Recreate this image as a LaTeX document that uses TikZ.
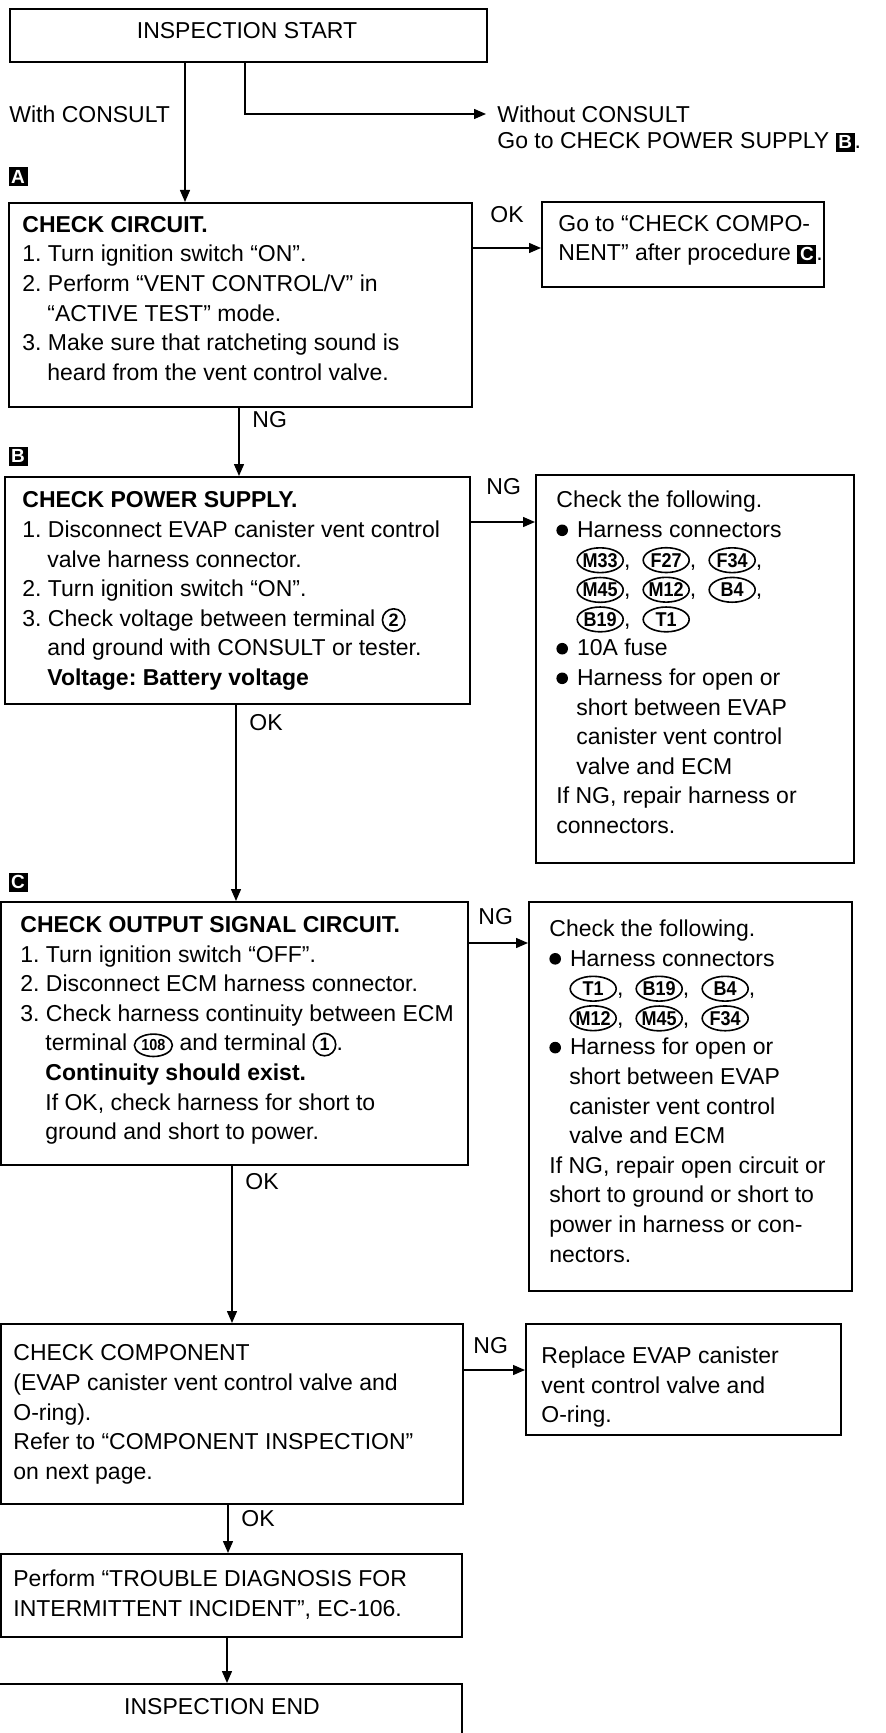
\documentclass[tikz,border=0pt]{standalone}
\usepackage{fontspec}
\setmainfont{Liberation Sans}
\newfontfamily\connfont[FakeStretch=0.9]{Liberation Sans}
\usetikzlibrary{arrows.meta}

\newcommand\fl{\rule{0pt}{9pt}}
\newcommand\ind{\hspace*{12.5pt}}
\newcommand\bind{\hspace*{10pt}}
\newcommand\sep{,\hspace{6pt}}
\newcommand\bul{\tikz[baseline=-3.6pt]\fill (0,0) circle (2.9pt);\hspace{4.5pt}}
\newcommand\conn[1]{\tikz[baseline=(inl.base)]{\node[anchor=center,inner sep=0pt,font=\connfont\fontsize{10}{10}\selectfont\bfseries] (inl) {#1};
  \draw[line width=0.8pt] (inl.center) ellipse (11.5pt and 6.2pt);}}
\newcommand\pin[1]{\tikz[baseline=(inl.base)]{\node[anchor=center,inner sep=0pt,font=\connfont\fontsize{8}{8}\selectfont\bfseries] (inl) {#1};
  \draw[line width=0.8pt] (inl.center) ellipse (9.5pt and 5.6pt);}}
\newcommand\term[1]{\tikz[baseline=(inl.base)]{\node[anchor=center,inner sep=0pt,font=\fontsize{9}{9}\selectfont\bfseries] (inl) {#1};
  \draw[line width=0.8pt] (inl.center) circle (5.6pt);}}
\newcommand\lettag[1]{\tikz[baseline=(inl.base)]\node[tagbox,anchor=center] (inl) {#1};}

\begin{document}
\begin{tikzpicture}[x=0.5pt,y=-0.5pt,font=\fontsize{11.5}{14.8}\selectfont\frenchspacing,
    box/.style 2 args={draw,line width=1pt,anchor=north west,inner sep=0pt,minimum width=#1pt/2,minimum height=#2pt/2},
    txt/.style={anchor=north west,inner sep=0pt,align=left},
    lab/.style={anchor=west,inner sep=0pt},
    tagbox/.style={fill=black,text=white,inner sep=0pt,minimum size=9.5pt,font=\fontsize{9.5}{9.5}\selectfont\bfseries},
    flow/.style={line width=0.7pt,-{Triangle[length=6pt,width=5pt]}}]
  \useasboundingbox (0,0) rectangle (885,1733);

  \node[box={477}{53}] (start) at (9,8) {};
  \node (tstart) at (247,31) {INSPECTION START};
  \node[lab] (with) at (9,114) {With CONSULT};
  \node[lab] (wo1) at (497,114) {Without CONSULT};
  \node[lab] (wo2) at (497,142) {Go to CHECK POWER SUPPLY \lettag{B}.};

  \node[tagbox] (tagA) at (18,177) {A};
  \node[box={463}{204}] (a) at (8,202) {};
  \node[txt] (ta) at (22,214) {\fl\textbf{CHECK CIRCUIT.}\\
    1. Turn ignition switch “ON”.\\
    2. Perform “VENT CONTROL/V” in\\
    \ind “ACTIVE TEST” mode.\\
    3. Make sure that ratcheting sound is\\
    \ind heard from the vent control valve.};
  \node[box={282}{85}] (a2) at (541,201) {};
  \node[txt] (ta2) at (558,213) {\fl Go to “CHECK COMPO-\\NENT” after procedure \lettag{C}.};

  \node[tagbox] (tagB) at (18,456) {B};
  \node[box={465}{227}] (b) at (4,476) {};
  \node[txt] (tb) at (22,489.5) {\fl\textbf{CHECK POWER SUPPLY.}\\
    1. Disconnect EVAP canister vent control\\
    \ind valve harness connector.\\
    2. Turn ignition switch “ON”.\\
    3. Check voltage between terminal \term{2}\\
    \ind and ground with CONSULT or tester.\\
    \ind\textbf{Voltage: Battery voltage}};
  \node[box={318}{388}] (b2) at (535,474) {};
  \node[txt] (tb2) at (556,489.5) {\fl Check the following.\\
    \bul Harness connectors\\
    \bind\conn{M33}\sep\conn{F27}\sep\conn{F34},\\
    \bind\conn{M45}\sep\conn{M12}\sep\conn{B4},\\
    \bind\conn{B19}\sep\conn{T1}\\
    \bul 10A fuse\\
    \bul Harness for open or\\
    \bind short between EVAP\\
    \bind canister vent control\\
    \bind valve and ECM\\
    If NG, repair harness or\\
    connectors.};

  \node[tagbox] (tagC) at (18,882) {C};
  \node[box={467}{263}] (c) at (0,901) {};
  \node[txt] (tc) at (20,914) {\fl\textbf{CHECK OUTPUT SIGNAL CIRCUIT.}\\
    1. Turn ignition switch “OFF”.\\
    2. Disconnect ECM harness connector.\\
    3. Check harness continuity between ECM\\
    \ind terminal \pin{108} and terminal \term{1}.\\
    \ind\textbf{Continuity should exist.}\\
    \ind If OK, check harness for short to\\
    \ind ground and short to power.};
  \node[box={323}{389}] (c2) at (528,901) {};
  \node[txt] (tc2) at (549,918) {\fl Check the following.\\
    \bul Harness connectors\\
    \bind\conn{T1}\sep\conn{B19}\sep\conn{B4},\\
    \bind\conn{M12}\sep\conn{M45}\sep\conn{F34}\\
    \bul Harness for open or\\
    \bind short between EVAP\\
    \bind canister vent control\\
    \bind valve and ECM\\
    If NG, repair open circuit or\\
    short to ground or short to\\
    power in harness or con-\\
    nectors.};

  \node[box={462}{180}] (d) at (0,1323) {};
  \node[txt] (td) at (13,1342.5) {\fl CHECK COMPONENT\\
    (EVAP canister vent control valve and\\
    O-ring).\\
    Refer to “COMPONENT INSPECTION”\\
    on next page.};
  \node[box={315}{111}] (d2) at (525,1323) {};
  \node[txt] (td2) at (541,1345) {\fl Replace EVAP canister\\vent control valve and\\O-ring.};

  \node[box={461}{83}] (e) at (0,1553) {};
  \node[txt] (te) at (13,1568) {\fl Perform “TROUBLE DIAGNOSIS FOR\\INTERMITTENT INCIDENT”, EC-106.};

  \node[box={478}{120}] (f) at (-17,1683) {};
  \node (tf) at (222,1707) {INSPECTION END};

  \coordinate (xw) at (185,0);
  \coordinate (xwo) at (245,0);
  \draw[flow] (start.south -| xw) -- (a.north -| xw);
  \draw[flow,shorten >=5.5pt] (start.south -| xwo) |- (wo1.west);

  \coordinate (yA) at (0,248);
  \draw[flow] (a.east |- yA) -- (a2.west |- yA);
  \node[lab] (okA) at (490,215) {OK};
  \coordinate (xab) at (239,0);
  \draw[flow] (a.south -| xab) -- (b.north -| xab);
  \node[lab] (ngA) at (252,420) {NG};

  \coordinate (yB) at (0,522);
  \draw[flow] (b.east |- yB) -- (b2.west |- yB);
  \node[lab] (ngB) at (486,487) {NG};
  \coordinate (xbc) at (236,0);
  \draw[flow] (b.south -| xbc) -- (c.north -| xbc);
  \node[lab] (okB) at (249,723) {OK};

  \coordinate (yC) at (0,943);
  \draw[flow] (c.east |- yC) -- (c2.west |- yC);
  \node[lab] (ngC) at (478,917) {NG};
  \coordinate (xcd) at (232,0);
  \draw[flow] (c.south -| xcd) -- (d.north -| xcd);
  \node[lab] (okC) at (245,1182) {OK};

  \coordinate (yD) at (0,1370);
  \draw[flow] (d.east |- yD) -- (d2.west |- yD);
  \node[lab] (ngD) at (473,1346) {NG};
  \coordinate (xde) at (228,0);
  \draw[flow] (d.south -| xde) -- (e.north -| xde);
  \node[lab] (okD) at (241,1519) {OK};

  \coordinate (xef) at (227,0);
  \draw[flow] (e.south -| xef) -- (f.north -| xef);
\end{tikzpicture}
\end{document}
